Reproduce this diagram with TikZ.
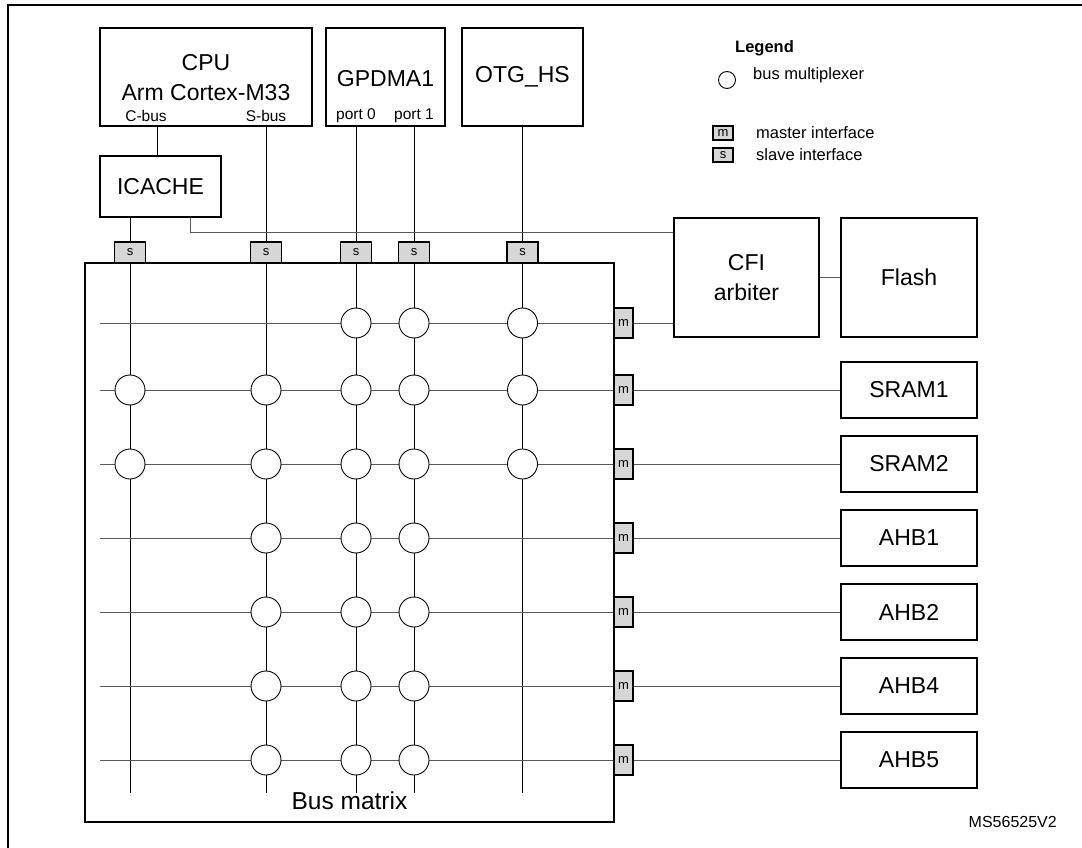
\documentclass[tikz,border=0pt]{standalone}
\usepackage{fontspec}
\setmainfont{Liberation Sans}
\usetikzlibrary{backgrounds}
\begin{document}
\begin{tikzpicture}[x=1pt,y=-1pt,
  box/.style={draw,line width=1.6pt,inner sep=0pt,align=center,font=\fontsize{23}{30}\selectfont},
  iface/.style={draw,line width=1.6pt,fill=black!16,inner sep=0pt,font=\fontsize{13}{14}\selectfont},
  mux/.style={draw,line width=0.9pt,fill=white,circle,minimum size=30pt,inner sep=0pt},
  hl/.style={line width=1pt,black!65},
  vl/.style={line width=1pt,black},
  small/.style={inner sep=0pt,font=\fontsize{15.5}{17}\selectfont},
  leg/.style={inner sep=0pt,anchor=west,font=\fontsize{16.5}{18}\selectfont}]
\useasboundingbox (0,0) rectangle (1082,848);
% outer frame
\draw[line width=2pt] (8,850) -- (8,5) -- (1084,5);

% top masters
\node[box,minimum width=212pt,minimum height=98pt] (cpu) at (206,77) {};
\node[inner sep=0pt,align=center,font=\fontsize{23}{30}\selectfont] (cput) at (206,78) {CPU\\Arm Cortex-M33};
\node[small] (cbusl) at (146,116) {C-bus};
\node[small] (sbusl) at (266,116) {S-bus};
\node[box,minimum width=119pt,minimum height=98pt] (gp) at (385.5,77) {};
\node[inner sep=0pt,font=\fontsize{23}{30}\selectfont] (gpt) at (385.5,79) {GPDMA1};
\node[small] (p0l) at (356,116) {port 0};
\node[small] (p1l) at (414,116) {port 1};
\node[box,minimum width=121pt,minimum height=98pt] (otg) at (522.5,77) {OTG\_HS};

\node[box,minimum width=121pt,minimum height=61pt] (icache) at (160.5,186.5) {ICACHE};

% legend
\node[inner sep=0pt,anchor=west,font=\bfseries\fontsize{16.5}{18}\selectfont] (legt) at (735,48) {Legend};
\node[draw,circle,line width=0.9pt,minimum size=17pt,inner sep=0pt] (legc) at (727,80) {};
\node[leg] (legct) at (753,75) {bus multiplexer};
\node[iface,minimum width=20pt,minimum height=14pt] (legm) at (723,133) {m};
\node[leg] (legmt) at (756,133) {master interface};
\node[iface,minimum width=20pt,minimum height=14pt] (legs) at (723,155) {s};
\node[leg] (legst) at (756,155) {slave interface};

% bus matrix
\node[draw,line width=1.6pt,minimum width=529pt,minimum height=559pt,inner sep=0pt] (bm) at (349.5,542.5) {};
\node[inner sep=0pt,font=\fontsize{24.5}{27}\selectfont] (bmt) at (349.5,801) {Bus matrix};

% slave interfaces
\foreach \i/\x in {1/130,2/266,3/356,4/414,5/522.5}{
  \node[iface,minimum width=31pt,minimum height=21pt] (s\i) at (\x,252.5) {s};
  \coordinate (cb\i) at (\x,793);
}
\coordinate (cbx) at (157,0);
\coordinate (rt) at (190,232);

% rows
\foreach \r/\y in {1/323,2/390,3/464,4/538,5/612,6/686,7/760}{
  \node[iface,minimum width=19pt,minimum height=30pt] (m\r) at (623.5,\y) {m};
  \coordinate (rs\r) at (100,\y);
}

% slaves
\node[box,minimum width=145pt,minimum height=119pt] (cfi) at (746.5,277.5) {CFI\\arbiter};
\node[box,minimum width=136pt,minimum height=119pt] (flash) at (909,277.5) {Flash};
\foreach \n/\t/\r in {sram1/SRAM1/2,sram2/SRAM2/3,ahb1/AHB1/4,ahb2/AHB2/5,ahb4/AHB4/6,ahb5/AHB5/7}{
  \node[box,minimum width=136pt,minimum height=56pt] (\n) at (909,0 |- rs\r) {\t};
}

% multiplexers
\foreach \r/\cols in {1/{3,4,5},2/{1,2,3,4,5},3/{1,2,3,4,5},4/{2,3,4},5/{2,3,4},6/{2,3,4},7/{2,3,4}}{
  \foreach \c in \cols {
    \node[mux] (x\r\c) at (cb\c |- rs\r) {};
  }
}

\begin{pgfonlayer}{background}
  % column lines
  \draw[vl] (cpu.south -| cbx) -- (icache.north -| cbx);
  \draw[vl] (icache.south -| s1) -- (s1) -- (cb1);
  \draw[vl] (cpu.south -| s2) -- (s2) -- (cb2);
  \draw[vl] (gp.south -| s3) -- (s3) -- (cb3);
  \draw[vl] (gp.south -| s4) -- (s4) -- (cb4);
  \draw[vl] (otg.south -| s5) -- (s5) -- (cb5);
  % ICACHE to CFI
  \draw[hl] (icache.south -| rt) |- (cfi.west |- rt);
  % rows
  \draw[hl] (rs1) -- (m1) -- (cfi.west |- rs1);
  \draw[hl] (rs2) -- (m2) -- (sram1.west);
  \draw[hl] (rs3) -- (m3) -- (sram2.west);
  \draw[hl] (rs4) -- (m4) -- (ahb1.west);
  \draw[hl] (rs5) -- (m5) -- (ahb2.west);
  \draw[hl] (rs6) -- (m6) -- (ahb4.west);
  \draw[hl] (rs7) -- (m7) -- (ahb5.west);
  \draw[hl] (cfi.east) -- (flash.west);
\end{pgfonlayer}

\node[inner sep=0pt,anchor=east,font=\fontsize{16}{18}\selectfont] (ref) at (1057,822) {MS56525V2};
\end{tikzpicture}
\end{document}
